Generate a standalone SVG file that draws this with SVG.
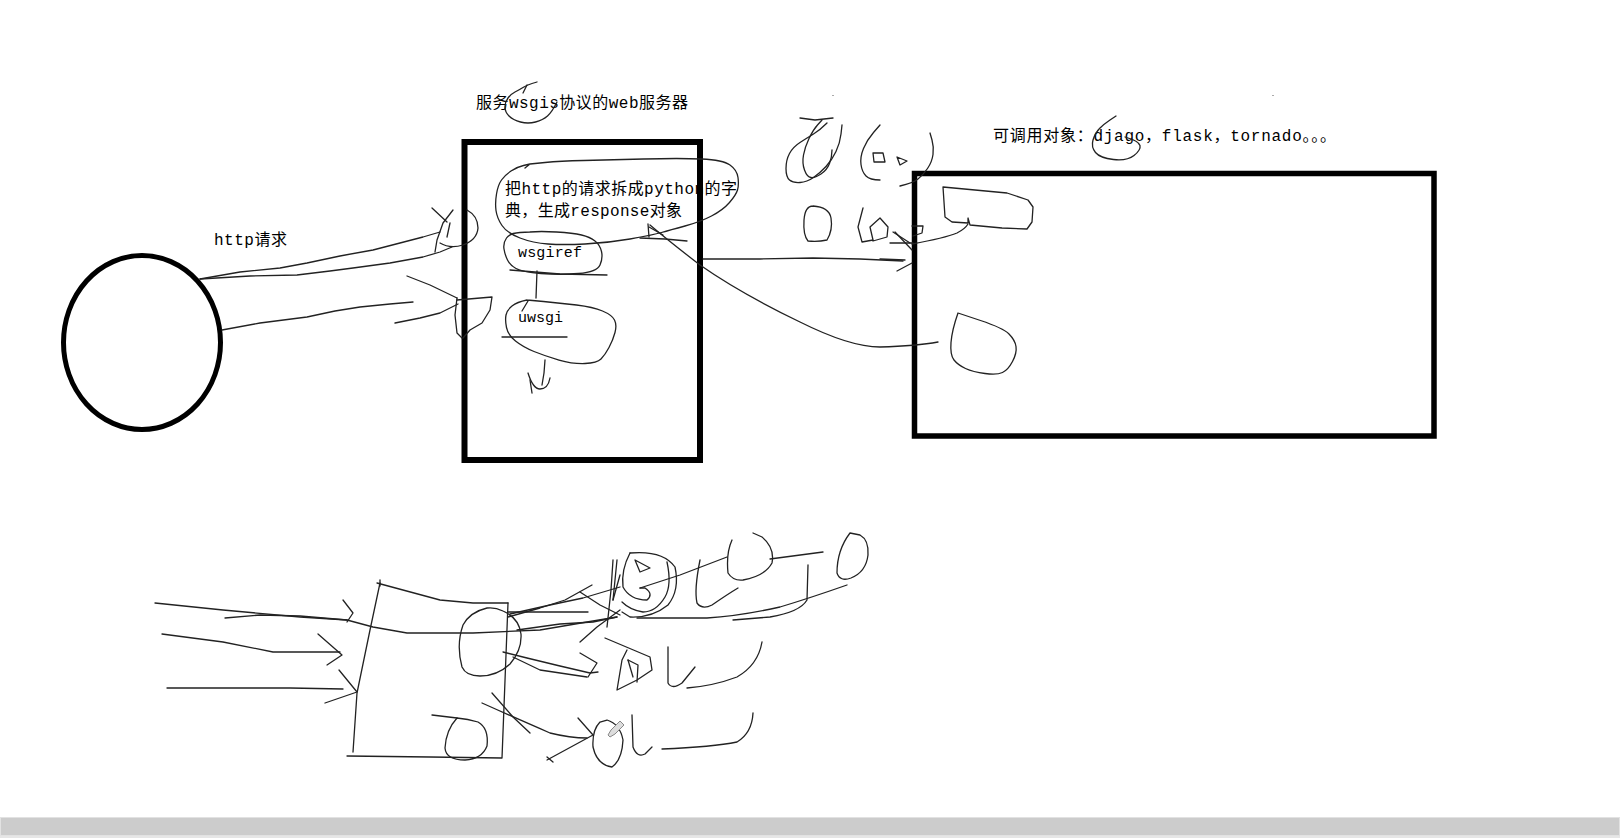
<svg xmlns="http://www.w3.org/2000/svg" width="1620" height="838" viewBox="0 0 1620 838">
<style>
.s{fill:none;stroke:#222;stroke-width:1.3;stroke-linejoin:round;stroke-linecap:round}
.b{fill:none;stroke:#000}
.t{font-family:'Liberation Mono','Noto Sans CJK SC',monospace;font-size:16px;fill:#000}
.t2{font-family:'Liberation Mono','Noto Sans CJK SC',monospace;font-size:15px;fill:#000}
</style>
<rect width="1620" height="838" fill="#fff"/>

<g id="client">
<ellipse cx="142" cy="342.5" rx="78.5" ry="87" class="b" stroke-width="5"/>
</g>

<g id="label-http">
<text class="t" x="214" y="245" textLength="73" lengthAdjust="spacing">http请求</text>
</g>

<g id="wsgi-server">
<text class="t" x="476" y="108" textLength="212" lengthAdjust="spacing">服务wsgis协议的web服务器</text>
<text class="t" x="505" y="194" textLength="232" lengthAdjust="spacing">把http的请求拆成python的字</text>
<text class="t" x="505" y="216" textLength="177" lengthAdjust="spacing">典，生成response对象</text>
<rect x="464.5" y="142" width="235.5" height="318" class="b" stroke-width="6"/>
<path class="s" d="M537,82 L532,83.5 Q527,85 523,87.5 Q519,90 515,92 Q511,94 508,98 Q505,102 505,107 Q505,112 509,116 Q513,120 520.5,122 Q528,124 535.5,122 Q543,120 547.5,116 Q552,112 557,102"/>
<polyline class="s" points="527,85 523,93"/>
<path class="s" d="M525,168 L530,164 L545,162.5 Q560,161 583.5,160.5 Q607,160 643.5,159 Q680,158 701.5,159 Q723,160 730,165 Q737,170 738,177.5 Q739,185 737.5,190 Q736,195 729.5,202.5 Q723,210 711.5,216 Q700,222 685,226 Q670,230 661.5,232.5 Q653,235 630,239 Q607,243 585,244 Q563,245 548,244 Q533,243 520,238 Q507,233 502,225.5 Q497,218 496,210.5 Q495,203 496.5,194 Q498,185 501.5,180 Q505,175 511,171 Q517,167 523.5,165.5 L530,164"/>
</g>

<g id="wsgiref">
<text class="t2" x="518" y="257" textLength="64" lengthAdjust="spacing">wsgiref</text>
<path class="s" d="M530,232 L520,232.5 Q510,233 506.5,238 Q503,243 504,249 Q505,255 507.5,260 Q510,265 516,268.5 Q522,272 541,273.5 Q560,275 578.5,273.5 Q597,272 600,265 Q603,258 601.5,251.5 Q600,245 595,241 Q590,237 581.5,235 Q573,233 556.5,232 Q540,231 530,232"/>
<polyline class="s" points="510,270 560,274 607,275"/>
</g>

<g id="uwsgi">
<text class="t2" x="518" y="322" textLength="45" lengthAdjust="spacing">uwsgi</text>
<path class="s" d="M527,300 L543.5,301.5 Q560,303 576.5,305 Q593,307 602.5,311 Q612,315 614.5,320 Q617,325 615,332.5 Q613,340 609,347.5 Q605,355 601,359 Q597,363 585,363.5 Q573,364 559,360 Q545,356 534,351.5 Q523,347 515.5,341 Q508,335 506.5,327.5 Q505,320 506,315 Q507,310 512,306 Q517,302 527,300"/>
<polyline class="s" points="502,337 567,337"/>
<polyline class="s" points="528,301 522,311"/>
</g>

<g id="app">
<text class="t" x="993" y="141" textLength="343" lengthAdjust="spacing">可调用对象：djago，flask，tornado。。。</text>
<path class="s" d="M1116,116 L1110,120 Q1104,124 1099.5,128.5 Q1095,133 1093,140 Q1091,147 1095.5,152.5 Q1100,158 1113.5,159.5 Q1127,161 1134,155.5 Q1141,150 1140,145.5 Q1139,141 1125,137"/>
<rect x="914.5" y="173.5" width="519.5" height="262.5" class="b" stroke-width="5.5"/>
<polyline class="s" points="943,187 1007,193 1028,200 1033,207 1032,222 1027,229 1002,228 970,225 968,218 968,223 952,222 945,217 943,187"/>
<path class="s" d="M958,313 L980.5,320.5 Q1003,328 1009,334 Q1015,340 1016,346.5 Q1017,353 1012.5,361.5 Q1008,370 1002.5,372.5 Q997,375 985,373.5 Q973,372 965.5,368.5 Q958,365 954,360 Q950,355 951,342.5 Q952,330 958,313"/>
<rect x="832.5" y="95" width="1" height="1" fill="#555"/>
<rect x="1272.5" y="95" width="1" height="1" fill="#555"/>
</g>

<g id="sketch-top">
<path class="s" d="M842,125 L841,134 Q840,143 836,151.5 Q832,160 826,166.5 Q820,173 813.5,177.5 Q807,182 800,182.5 Q793,183 789.5,180 Q786,177 786,168.5 Q786,160 789.5,153.5 Q793,147 800,142.5 Q807,138 813.5,134 Q820,130 827,123"/>
<path class="s" d="M822,120 L817.5,125 Q813,130 809,138.5 Q805,147 803.5,155 Q802,163 804.5,170 Q807,177 811,177.5 Q815,178 821,174 Q827,170 829.5,163.5 Q832,157 832,150"/>
<polyline class="s" points="800,118 815,120 833,118"/>
<path class="s" d="M880,125 L873.5,132.5 Q867,140 863.5,148.5 Q860,157 861,164.5 Q862,172 866,176 Q870,180 880,180"/>
<polyline class="s" points="873,153 883,153 885,162 874,162 873,153"/>
<polyline class="s" points="897,157 907,161 900,165 897,157"/>
<path class="s" d="M930,133 L932,140 Q934,147 933,154.5 Q932,162 927.5,168.5 Q923,175 918,179 Q913,183 900,186"/>
<path class="s" d="M813,206 Q805,206 804,220 Q803,235 808,241 Q818,242 827,240 Q833,230 831,218 Q829,207 813,206"/>
<polyline class="s" points="863,208 858,227 862,242 873,240 870,227 880,218 888,227 887,237 873,241"/>
<polyline class="s" points="893,232 910,243"/>
<polyline class="s" points="890,243 913,243"/>
<polyline class="s" points="912,226 923,226 922,233 913,236"/>
</g>

<g id="connectors">
<polyline class="s" points="200,279 240,272 280,268 307,263 340,256 373,250 400,243 423,237 440,232"/>
<polyline class="s" points="200,279 250,276 297,275 330,271 353,268 390,263 423,257 440,252 452,247"/>
<polyline class="s" points="222,330 260,323 307,317 335,311 360,307 390,304 413,302"/>
<polyline class="s" points="395,323 420,318 440,313 458,304"/>
<polyline class="s" points="407,276 430,285 457,298"/>
<polyline class="s" points="432,208 447,222"/>
<polyline class="s" points="453,210 443,223 437,240 435,252"/>
<polyline class="s" points="450,223 447,237"/>
<path class="s" d="M467,210 Q478,216 478,228 Q477,240 463,245 Q450,249 440,243"/>
<polyline class="s" points="457,300 492,297 490,310 482,323 470,330 463,338"/>
<polyline class="s" points="457,298 455,315 457,333 462,338"/>
<polyline class="s" points="703,259 760,259 813,258 860,259 903,261"/>
<polyline class="s" points="895,232 912,250"/>
<polyline class="s" points="880,259 905,260"/>
<polyline class="s" points="897,271 912,263"/>
<path class="s" d="M912,244 Q945,238 957,233 Q965,229 968,224"/>
<path class="s" d="M938,342 Q917,346 880,347 Q850,347 800,322 Q740,293 700,265 Q670,242 650,225"/>
<polyline class="s" points="648,224 649,237"/>
<polyline class="s" points="649,227 663,235"/>
<polyline class="s" points="640,238 665,239 687,241"/>
<polyline class="s" points="537,271 536,298"/>
<polyline class="s" points="545,360 544,373 542,385"/>
<path class="s" d="M528,373 Q533,389 540,389 Q548,389 550,378"/>
<polyline class="s" points="530,380 532,393"/>
</g>

<g id="sketch-bottom">
<polyline class="s" points="155,603 223,610 300,617 347,620 373,627 407,633 473,633 540,630 587,622 617,617"/>
<polyline class="s" points="225,618 260,615 300,616 347,620"/>
<polyline class="s" points="343,600 353,613 347,622"/>
<polyline class="s" points="162,634 223,642 273,652 340,652"/>
<polyline class="s" points="318,634 342,655 327,665"/>
<polyline class="s" points="167,688 290,688 343,689"/>
<polyline class="s" points="339,670 357,692 325,703"/>
<polyline class="s" points="380,580 380,586"/>
<polyline class="s" points="377,583 440,600 473,603 508,603"/>
<polyline class="s" points="380,583 370,630 357,693 353,752"/>
<polyline class="s" points="347,756 430,757 502,758 508,603"/>
<path class="s" d="M487,608 Q470,612 463,625 Q456,645 462,667 Q466,676 480,676 Q497,676 510,664 Q522,650 521,634 Q519,618 503,611 Q495,607 487,608"/>
<polyline class="s" points="432,715 457,718"/>
<path class="s" d="M457,718 Q446,730 445,748 Q446,760 465,760 Q482,759 487,746 Q489,728 478,722 Q468,719 457,718"/>
<polyline class="s" points="508,617 540,608 565,600 592,585"/>
<polyline class="s" points="508,612 545,612 588,612"/>
<polyline class="s" points="510,614 550,605 583,598 620,587"/>
<polyline class="s" points="517,630 560,624 593,622 617,617"/>
<polyline class="s" points="580,592 600,605 620,615"/>
<polyline class="s" points="613,560 611,590 607,627"/>
<polyline class="s" points="620,575 613,600"/>
<polyline class="s" points="620,610 597,627 580,642"/>
<polyline class="s" points="503,652 527,658 560,666 590,673 598,672"/>
<polyline class="s" points="513,657 540,670 587,677"/>
<polyline class="s" points="580,653 597,663 588,677"/>
<path class="s" d="M482,703 Q520,720 550,733 Q570,738 587,738"/>
<polyline class="s" points="492,693 513,717 530,733"/>
<polyline class="s" points="578,718 593,735 547,760"/>
<polyline class="s" points="547,757 553,762"/>
<path class="s" d="M630,553 Q663,550 675,567 Q680,590 668,605 Q652,618 630,617 L622,612"/>
<path class="s" d="M630,553 Q621,570 623,587 Q630,600 647,600 Q654,594 645,588 L640,588"/>
<path class="s" d="M667,562 Q672,585 665,597 Q656,612 643,612 Q630,610 622,602"/>
<polyline class="s" points="635,560 650,568 640,572 635,560"/>
<polyline class="s" points="617,560 613,600"/>
<polyline class="s" points="640,588 680,575 727,557"/>
<path class="s" d="M732,540 Q726,553 728,573 Q733,581 743,580 Q765,576 772,563 Q775,548 762,537 L753,533"/>
<polyline class="s" points="770,559 823,552"/>
<path class="s" d="M700,560 Q694,590 697,603 Q702,610 712,605 Q728,594 738,588"/>
<path class="s" d="M850,533 Q837,550 837,573 Q840,582 851,578 Q866,572 868,555 Q869,540 860,535 L850,533"/>
<path class="s" d="M847,585 Q810,598 780,607 Q740,616 707,618 L637,618"/>
<path class="s" d="M808,565 L807,600 Q800,612 770,617 L733,620"/>
<polyline class="s" points="605,638 650,657 652,670 637,680 617,690 622,660 627,650"/>
<polyline class="s" points="628,660 633,677"/>
<polyline class="s" points="628,660 638,665 637,682"/>
<path class="s" d="M668,647 L668,683 Q672,690 682,683 L695,667"/>
<path class="s" d="M687,688 Q713,686 737,677 Q758,665 762,642"/>
<path class="s" d="M600,722 Q592,730 593,747 Q597,765 612,767 Q622,760 623,740 Q620,724 607,720 Z"/>
<path class="s" d="M632,715 L633,747 Q637,758 645,754 L652,747"/>
<path class="s" d="M662,749 Q713,747 737,742 Q752,733 753,713"/>
<g id="pencil-cursor">
<polygon points="608,735 611,730 620,721 624,725 615,734 610,737" fill="#ddd" stroke="#888" stroke-width="1"/>
</g>
</g>

<g id="statusbar">
<rect x="0.5" y="817.5" width="1619" height="18" fill="#cccccc" stroke="#e2e2e2"/>
<rect x="0" y="836" width="1620" height="2" fill="#e6e6e6"/>
</g>
</svg>
